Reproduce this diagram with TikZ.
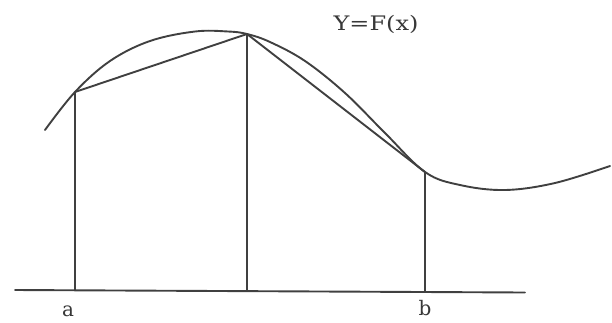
\documentclass[tikz,border=0pt]{standalone}
\usepackage{fontspec}
\newfontfamily\labfont{DejaVu Serif}
\begin{document}
\begin{tikzpicture}[x=1pt,y=-1pt,
  ink/.style={draw=black!75,line width=1.9pt,line cap=round,line join=round},
  thin/.style={draw=black!75,line width=1.5pt},
  lab/.style={font=\labfont\fontsize{20}{20}\selectfont,text=black!78,inner sep=0pt}]
\useasboundingbox (0,0) rectangle (612,322);
% key points
\coordinate (A) at (75,92);
\coordinate (M) at (247,34);
\coordinate (B) at (425,172);
\coordinate (Af) at (75,290.5);
\coordinate (Mf) at (247,291.2);
\coordinate (Bf) at (425,292);
\coordinate (X0) at (15,290);
\coordinate (X1) at (525,292.5);
% curve
\draw[ink] plot[smooth,tension=0.6] coordinates {
  (45,130) (A) (110,61) (150,41) (195,31.5) (228,31.5) (M)
  (270,42) (305,61) (345,93) (385,133) (B) (460,185)
  (505,190) (555,183) (610,166)};
% chords
\draw[ink] (A) -- (M) -- (B);
% ordinates
\draw[thin] (A) -- (Af);
\draw[thin] (M) -- (Mf);
\draw[thin] (B) -- (Bf);
% axis
\draw[ink] (X0) -- (X1);
% labels
\node[lab] (la) at (68,311) {a};
\node[lab] (lb) at (425,308) {b};
\node[lab,xscale=1.2] (lf) at (376,24) {Y=F(x)};
\end{tikzpicture}
\end{document}
